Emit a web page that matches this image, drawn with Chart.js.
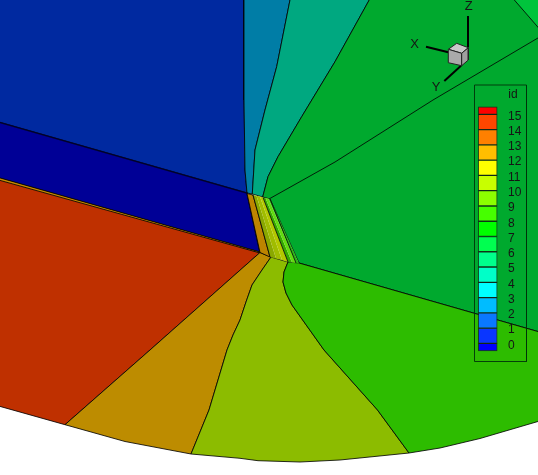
<!DOCTYPE html>
<html>
<head>
<meta charset="utf-8">
<title>id</title>
<script src="https://cdn.jsdelivr.net/npm/chart.js@4"></script>
<style>
  html, body { margin: 0; padding: 0; background: #fff; }
  canvas { display: block; }
</style>
</head>
<body>
<canvas id="myChart" width="538" height="475"></canvas>
<script>
// zones of the id field, outlines, back to front
const blueZone = [[-5,-5],[244,-5],[244,100],[245,170],[247,193],[-5,121]];
const tealBlueZone = [[244,-5],[291,-5],[276.7,66.7],[265,110],[255,150],[252.3,194],[247,193],[245,170],[244,100]];
const tealZone = [[291,-5],[372,-5],[335,61.7],[301.7,116.7],[278,156.7],[268,176.7],[262.7,197],[252.3,194],[255,150],[265,110],[276.7,66.7]];
const greenZone = [[372,-5],[543,-5],[543,333],[299,263],[270,199],[262.7,197],[268,176.7],[278,156.7],[301.7,116.7],[335,61.7]];
const cornerZone = [[510,-5],[543,-5],[543,33]];
const greenSeam = [[269,199],[335,162],[433,100],[543,35]];
const darkBlueStrip = [[-5,121],[247,193],[260,252.5],[-5,177]];
const redZone = [[-5,177],[260,252.5],[150,350],[65,424.7],[-5,405]];
const orangeSliver = [[-5,176.5],[260,252],[260,253],[-5,179]];
const orangeOliveEdge = [[271,257],[262,270],[252,285],[246,302],[240,320],[233,335],[227,350],[218,380],[209,410],[200,432],[191,454]];
const oliveGreenEdge = [[409,453],[377.5,410],[357,387],[324,350],[292,305],[286,293],[283,282],[284,272],[288,262]];
const orangeZone = [[260,252.5]].concat(orangeOliveEdge, [[125,441.5],[65,424.7],[150,350]]);
const oliveZone = orangeOliveEdge.concat([[240,458.3],[258,460.7],[300,462],[340,460]], oliveGreenEdge);
const lowerGreenZone = [[299,263],[543,333],[543,420],[480,438.5],[440,448]].concat(oliveGreenEdge);
const orangeBand = [[247,193.5],[253,195],[270,257],[260,252.5]];
const oliveStripA = [[253,195],[256.5,195.8],[276,258.5],[270,257]];
const oliveStripB = [[256.5,195.8],[260,196.6],[282,260],[276,258.5]];
const oliveStripC = [[260,196.6],[263,197.5],[288,262],[282,260]];
const greenStripA = [[263,197.5],[265.5,198],[292,262.5],[288,262]];
const greenStripB = [[265.5,198],[268.3,198.6],[296,263],[292,262.5]];
const greenStripC = [[268.3,198.6],[270,199],[299,263.5],[296,263]];

const legendBox = [[474.5,85],[526.5,85],[526.5,361.5],[474.5,361.5],[474.5,85]];

// orientation triad
const axisZ = [[468,16],[468,47]];
const axisX = [[426,46.7],[448.3,52.3]];
const axisY = [[444.3,81],[461,65.7]];
const cubeTop = [[448.3,49.3],[456.7,43.3],[468.3,47.7],[461.7,53.3]];
const cubeLeft = [[448.3,49.3],[461.7,53.3],[461.7,65.7],[448.3,62.7]];
const cubeRight = [[461.7,53.3],[468.3,47.7],[468.3,60],[461.7,65.7]];

// contour legend
const legendTitle = 'id';
const legendLevels = [15,14,13,12,11,10,9,8,7,6,5,4,3,2,1,0];
const legendEdges = [-0.5,0,1,2,3,4,5,6,7,8,9,10,11,12,13,14,15,15.5];
const legendColors = ['#0000ff','#0a36ff','#0a78ff','#00bcff','#00ffff','#00ffc8','#00ff8c','#00ff50','#00ff00','#46ff00','#8cff00','#c8ff00','#ffff00','#ffbe00','#ff8000','#ff4600','#ff0000'];
const legendBarX = 487.7;

const LINE = 'rgba(0,0,0,0.82)';

function zone(points, color, lineColor, lineWidth) {
  return {
    type: 'line',
    data: points.concat([points[0]]).map(p => ({ x: p[0], y: p[1] })),
    backgroundColor: color,
    borderColor: lineColor === undefined ? LINE : lineColor,
    borderWidth: lineWidth === undefined ? 1 : lineWidth,
    fill: color ? 'shape' : false,
    pointRadius: 0,
    tension: 0,
    xAxisID: 'x',
    yAxisID: 'y'
  };
}

function stick(points, width, color) {
  return {
    type: 'line',
    data: points.map(p => ({ x: p[0], y: p[1] })),
    borderColor: color || '#000',
    borderWidth: width || 2,
    fill: false,
    pointRadius: 0,
    xAxisID: 'x',
    yAxisID: 'y'
  };
}

let legendBars = {
  type: 'bar',
  data: legendColors.map((c, i) => ({ x: legendBarX, y: [legendEdges[i], legendEdges[i + 1]] })),
  backgroundColor: legendColors,
  borderColor: 'rgba(20,20,20,0.75)',
  borderWidth: 1,
  borderSkipped: false,
  barThickness: 19,
  grouped: false,
  xAxisID: 'x',
  yAxisID: 'yLegend'
};

let datasets = [
  zone(blueZone, '#0029a0'),
  zone(tealBlueZone, '#007da6'),
  zone(tealZone, '#00a880'),
  zone(greenZone, '#00a92e'),
  zone(cornerZone, '#00c43c'),
  stick(greenSeam, 1, LINE),
  zone(darkBlueStrip, '#000096', 'rgba(0,0,40,0.95)', 1.5),
  zone(redZone, '#bf3000'),
  zone(orangeSliver, '#c88a00'),
  zone(orangeZone, '#bd8c00'),
  zone(oliveZone, '#8cbc00'),
  zone(lowerGreenZone, '#2dbc00'),
  zone(orangeBand, '#bd8400'),
  zone(oliveStripA, '#8aa800', '#8aa800', 0),
  zone(oliveStripB, '#a0bc00', '#a0bc00', 0),
  zone(oliveStripC, '#b4c800', '#b4c800', 0),
  zone(greenStripA, '#34a800', '#34a800', 0),
  zone(greenStripB, '#62dc10', '#62dc10', 0),
  zone(greenStripC, '#2cb814', '#2cb814', 0),
  stick([[253,195],[270,257]], 1, LINE),
  stick([[263,197.5],[288,262]], 1, LINE),
  stick([[270,199],[296,263]], 1, LINE),
  zone(legendBox, false, 'rgba(0,50,10,0.9)', 1),
  legendBars,
  stick(axisZ), stick(axisX), stick(axisY),
  zone(cubeTop, '#c8c8c8', '#222', 1),
  zone(cubeLeft, '#aaaaaa', '#222', 1),
  zone(cubeRight, '#a0a0a0', '#222', 1)
];

// first dataset goes at the back
datasets.forEach((d, i) => { d.order = datasets.length - i; });

// legend and triad texts, placed through the scales
const textPlugin = {
  id: 'texts',
  afterDatasetsDraw(chart) {
    let c = chart.ctx;
    let x = chart.scales.x, y = chart.scales.y, lev = chart.scales.yLegend;
    c.save();
    c.fillStyle = '#151515';
    c.textBaseline = 'middle';
    c.font = '12px "Liberation Sans"';
    c.textAlign = 'left';
    legendLevels.forEach(l => {
      c.fillText(String(l), x.getPixelForValue(508), lev.getPixelForValue(l) + 2);
    });
    c.textAlign = 'center';
    c.fillText(legendTitle, x.getPixelForValue(513), y.getPixelForValue(95));
    c.font = '13px "Liberation Sans"';
    c.fillText('Z', x.getPixelForValue(468.7), y.getPixelForValue(6));
    c.fillText('X', x.getPixelForValue(414.7), y.getPixelForValue(44));
    c.fillText('Y', x.getPixelForValue(436), y.getPixelForValue(87));
    c.restore();
  }
};

let ctx = document.getElementById('myChart').getContext('2d');
let myChart = new Chart(ctx, {
  type: 'line',
  data: { datasets: datasets },
  options: {
    responsive: false,
    animation: false,
    parsing: { xAxisKey: 'x', yAxisKey: 'y' },
    layout: { padding: 0 },
    plugins: { legend: { display: false }, tooltip: { enabled: false } },
    scales: {
      x: { type: 'linear', display: false, offset: false, min: 0, max: 538 },
      y: { type: 'linear', display: false, reverse: true, min: 0, max: 475 },
      yLegend: { type: 'linear', display: false, min: -8.62, max: 22.49 }
    }
  },
  plugins: [textPlugin]
});
</script>
</body>
</html>
